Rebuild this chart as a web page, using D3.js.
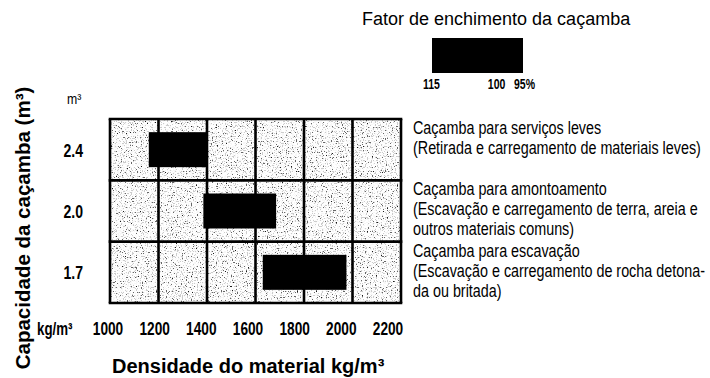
<!DOCTYPE html>
<html>
<head>
<meta charset="utf-8">
<script src="https://cdn.jsdelivr.net/npm/d3@7"></script>
<style>
  html, body { margin: 0; padding: 0; background: #fff; }
  svg { display: block; }
</style>
</head>
<body>
<div id="chart"></div>
<script>
// ---------- data ----------
const capacities = ["2.4", "2.0", "1.7"];
const densityStart = [1160, 1385, 1630];
const densityEnd = [1400, 1685, 1975];
const densityTicks = [1000, 1200, 1400, 1600, 1800, 2000, 2200];
const fillFactors = [115, 100, 95];
const bucketTexts = [
  ["Caçamba para serviços leves", "(Retirada e carregamento de materiais leves)"],
  ["Caçamba para amontoamento", "(Escavação e carregamento de terra, areia e", "outros materiais comuns)"],
  ["Caçamba para escavação", "(Escavação e carregamento de rocha detona-", "da ou britada)"]
];
const legendTitle = "Fator de enchimento da caçamba";
const xTitle = "Densidade do material kg/m³";
const yTitle = "Capacidade da caçamba (m³)";
const xUnit = "kg/m³";
const yUnit = "m³";

// ---------- setup ----------
const W = 710, H = 378;
const SANS = "'Liberation Sans',Arial,Helvetica,sans-serif";

const svg = d3.select("#chart").append("svg")
  .attr("width", W).attr("height", H);

// helper: condensed text (narrow-font look) via horizontal scaling
function narrow(sel, px, py, s) {
  return sel.attr("transform", `translate(${px},${py}) scale(${s},1)`)
    .attr("x", 0).attr("y", 0).attr("font-family", SANS);
}

const defs = svg.append("defs");
const f = defs.append("filter").attr("id", "speck")
  .attr("x", 0).attr("y", 0).attr("width", 1).attr("height", 1)
  .attr("color-interpolation-filters", "sRGB");
f.append("feTurbulence").attr("type", "fractalNoise")
  .attr("baseFrequency", 0.8).attr("numOctaves", 2).attr("seed", 5);
f.append("feColorMatrix").attr("type", "matrix")
  .attr("values", "1 0 0 0 0  1 0 0 0 0  1 0 0 0 0  0 0 0 0 1");
const ct = f.append("feComponentTransfer");
["feFuncR", "feFuncG", "feFuncB"].forEach(n =>
  ct.append(n).attr("type", "discrete")
    .attr("tableValues", "0 0.1 0.4 0.8 0.97 1 1 1 1 1"));

const x = d3.scaleLinear().domain([1000, 2200]).range([110, 401]);
const y = d3.scaleBand().domain(capacities).range([119, 303]);
const xLabel = d3.scaleLinear().domain([1000, 2200]).range([108, 388]);
const legendX = d3.scaleLinear().domain([100 / 115, 100 / 95]).range([432, 523]);

// grid background with stipple
svg.append("rect")
  .attr("x", x(1000)).attr("y", y.range()[0])
  .attr("width", x(2200) - x(1000)).attr("height", y.range()[1] - y.range()[0])
  .attr("fill", "#eee")
  .attr("filter", "url(#speck)");

// grid lines
const grid = svg.append("g").attr("stroke", "#000").attr("stroke-width", 2.6);
grid.selectAll("line.v").data(densityTicks).join("line")
  .attr("class", "v")
  .attr("x1", d => x(d)).attr("x2", d => x(d))
  .attr("y1", y.range()[0]).attr("y2", y.range()[1]);
const hb = capacities.map(c => y(c)).concat([y.range()[1]]);
grid.selectAll("line.h").data(hb).join("line")
  .attr("class", "h")
  .attr("x1", x(1000) - 1.3).attr("x2", x(2200) + 1.3)
  .attr("y1", d => d).attr("y2", d => d);

// bars
const barH = 35;
const bars = capacities.map((c, i) => ({ c, lo: densityStart[i], hi: densityEnd[i] }));
svg.append("g").selectAll("rect").data(bars).join("rect")
  .attr("x", d => x(d.lo))
  .attr("width", d => x(d.hi) - x(d.lo))
  .attr("y", d => y(d.c) + (y.bandwidth() - barH) / 2)
  .attr("height", barH)
  .attr("fill", "#000");

// y tick labels
svg.append("g").selectAll("text").data(capacities).join("text")
  .each(function (d) { narrow(d3.select(this), 83, y(d) + y.bandwidth() / 2 + 7, 0.74); })
  .attr("text-anchor", "end")
  .attr("font-weight", "bold").attr("font-size", 19)
  .text(d => d);
narrow(svg.append("text"), 67, 104, 0.82)
  .attr("font-size", 15)
  .text(yUnit);

// x tick labels
svg.append("g").selectAll("text").data(densityTicks).join("text")
  .each(function (d) { narrow(d3.select(this), xLabel(d), 335, 0.72); })
  .attr("text-anchor", "middle")
  .attr("font-weight", "bold").attr("font-size", 19)
  .text(d => d);
narrow(svg.append("text"), 37, 335, 0.74)
  .attr("font-weight", "bold").attr("font-size", 18)
  .text(xUnit);

// axis titles
svg.append("text").attr("x", 112).attr("y", 373)
  .attr("font-family", SANS).attr("font-weight", "bold").attr("font-size", 20)
  .text(xTitle);
svg.append("text")
  .attr("transform", "translate(30,228) rotate(-90)")
  .attr("text-anchor", "middle")
  .attr("font-family", SANS).attr("font-weight", "bold").attr("font-size", 20.5)
  .text(yTitle);

// legend
svg.append("text").attr("x", 362).attr("y", 25)
  .attr("font-family", SANS).attr("font-size", 18)
  .text(legendTitle);
svg.append("rect")
  .attr("x", legendX(100 / 115)).attr("y", 38)
  .attr("width", legendX(100 / 95) - legendX(100 / 115)).attr("height", barH)
  .attr("fill", "#000");
svg.append("g").selectAll("text").data(fillFactors).join("text")
  .each(function (d) { narrow(d3.select(this), legendX(100 / d) - 9, 89, 0.75); })
  .attr("font-weight", "bold").attr("font-size", 14)
  .text((d, i) => d + (i === fillFactors.length - 1 ? "%" : ""));

// right descriptions
const desc = svg.append("g").attr("font-size", 17.5);
bucketTexts.forEach((lines, i) => {
  const t = narrow(desc.append("text"), 413, y(capacities[i]) + 15, 0.82);
  lines.forEach((l, j) => {
    t.append("tspan").attr("x", 0).attr("dy", j === 0 ? 0 : 20).text(l);
  });
});
</script>
</body>
</html>
